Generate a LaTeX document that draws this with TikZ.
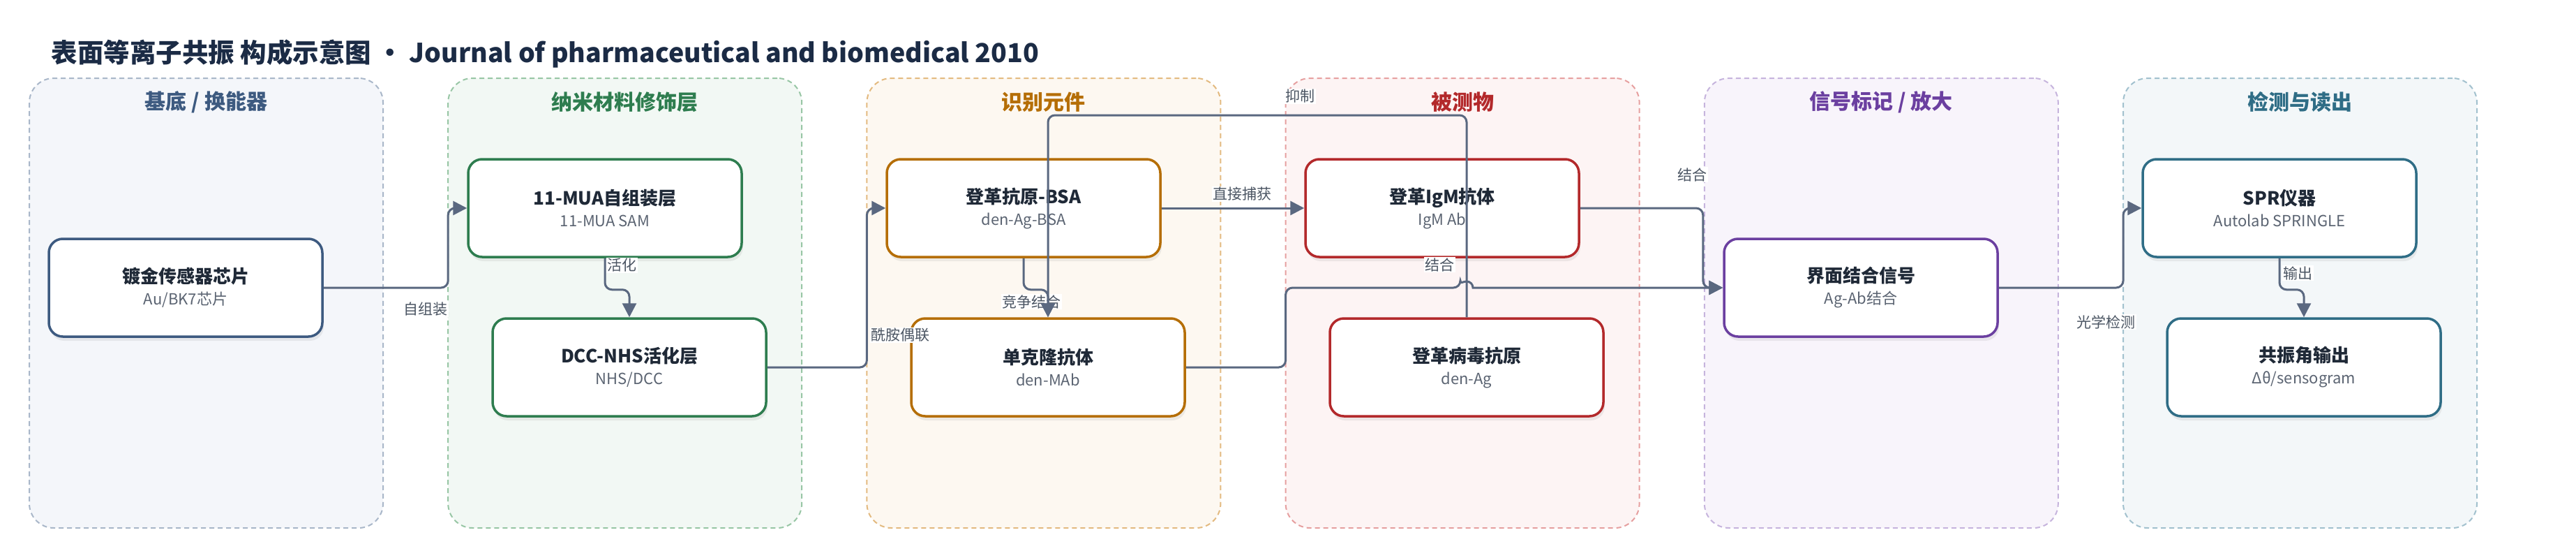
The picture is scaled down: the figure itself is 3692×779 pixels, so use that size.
\documentclass[tikz,border=0pt]{standalone}
\usepackage{fontspec}
\setmainfont{Noto Sans CJK SC}
\usetikzlibrary{arrows.meta,shadows,positioning}

\definecolor{subline}{HTML}{A9B7C9}
\definecolor{subfill}{HTML}{F4F6FA}
\definecolor{subtext}{HTML}{3D5A80}
\definecolor{nanoline}{HTML}{98C6A5}
\definecolor{nanofill}{HTML}{F2F8F4}
\definecolor{nanotext}{HTML}{2E7D4F}
\definecolor{recline}{HTML}{E3BA80}
\definecolor{recfill}{HTML}{FDF8F1}
\definecolor{rectext}{HTML}{B56E06}
\definecolor{analine}{HTML}{E6A0A0}
\definecolor{anafill}{HTML}{FDF4F4}
\definecolor{anatext}{HTML}{B3292B}
\definecolor{sigline}{HTML}{C6B4DD}
\definecolor{sigfill}{HTML}{F8F4FB}
\definecolor{sigtext}{HTML}{6B3FA0}
\definecolor{detline}{HTML}{A2C1CE}
\definecolor{detfill}{HTML}{F3F7F9}
\definecolor{dettext}{HTML}{2F6D86}
\definecolor{edgecol}{HTML}{5A6880}
\definecolor{inkdark}{HTML}{1F2937}
\definecolor{notegray}{HTML}{5B6472}
\definecolor{labelgray}{HTML}{4B5563}
\definecolor{titlecol}{HTML}{1B2B45}

\newcommand{\nodemain}[1]{{\fontsize{26}{31}\selectfont\bfseries\color{inkdark}#1}}
\newcommand{\nodesub}[1]{{\fontsize{22}{31}\selectfont #1}}

\begin{document}
\begin{tikzpicture}[x=1pt, y=-1pt,
  lane/.style={draw=#1line, fill=#1fill, line width=2pt, dash pattern=on 7pt off 5pt,
    rounded corners=35pt, minimum width=507pt, minimum height=644pt, inner sep=0pt, outer sep=0pt},
  lanetitle/.style={text=#1text, font=\fontsize{30}{36}\selectfont\bfseries},
  box/.style={draw=#1, line width=3.5pt, fill=white, rounded corners=20pt,
    minimum width=392pt, minimum height=140pt, align=center, inner sep=0pt,
    text=notegray, font=\fontsize{22}{31}\selectfont,
    drop shadow={shadow xshift=2pt, shadow yshift=-6pt, opacity=0.13}},
  edge/.style={draw=edgecol, line width=3pt, rounded corners=10pt, -{Triangle[length=20pt,width=20pt]}},
  elabel/.style={fill=white, text=labelgray, font=\fontsize{21}{24}\selectfont, inner sep=1.5pt}]

\useasboundingbox (0,0) rectangle (3692,779);

\def \laneleft {42}
\def \lanestep {600.2}

% title
\node[anchor=west, text=titlecol, font=\fontsize{37.5}{44}\selectfont\bfseries] (title) at (70,77)
  {表面等离子共振 构成示意图 · Journal of pharmaceutical and biomedical 2010};

% swimlanes
\foreach \i/\col/\name in {1/sub/{基底 / 换能器}, 2/nano/纳米材料修饰层, 3/rec/识别元件,
  4/ana/被测物, 5/sig/{信号标记 / 放大}, 6/det/检测与读出}
{
  \pgfmathsetmacro{\lx}{\laneleft + \lanestep*(\i-1)}
  \node[lane=\col, anchor=north west] (lane\i) at (\lx,112) {};
  \node[lanetitle=\col] (head\i) at (\lx+253.5,146) {\name};
}

% nodes
\node[box=subtext] (chip) at (266,412) {\nodemain{镀金传感器芯片}\\\nodesub{Au/BK7芯片}};
\node[box=nanotext] (mua) at (867,298) {\nodemain{11-MUA自组装层}\\\nodesub{11-MUA SAM}};
\node[box=nanotext] (dcc) at (902,526) {\nodemain{DCC-NHS活化层}\\\nodesub{NHS/DCC}};
\node[box=rectext] (bsa) at (1467,298) {\nodemain{登革抗原-BSA}\\\nodesub{den-Ag-BSA}};
\node[box=rectext] (mab) at (1502,526) {\nodemain{单克隆抗体}\\\nodesub{den-MAb}};
\node[box=anatext] (igm) at (2067,298) {\nodemain{登革IgM抗体}\\\nodesub{IgM Ab}};
\node[box=anatext] (denag) at (2102,526) {\nodemain{登革病毒抗原}\\\nodesub{den-Ag}};
\node[box=sigtext] (signal) at (2667,412) {\nodemain{界面结合信号}\\\nodesub{Ag-Ab结合}};
\node[box=dettext] (spr) at (3267,298) {\nodemain{SPR仪器}\\\nodesub{Autolab SPRINGLE}};
\node[box=dettext] (readout) at (3302,526) {\nodemain{共振角输出}\\\nodesub{Δθ/sensogram}};

% edge labels
\node[elabel] (lblassemble) at (610,443) {自组装};
\node[elabel] (lblactivate) at (891,380) {活化};
\node[elabel] (lblcouple) at (1290,480) {酰胺偶联};
\node[elabel] (lblcompete) at (1478,432) {竞争结合};
\node[elabel] (lblcapture) at (1780,278) {直接捕获};
\node[elabel] (lblinhibit) at (1863,138) {抑制};
\node[elabel] (lblbindA) at (2063,379) {结合};
\node[elabel] (lblbindB) at (2425,250) {结合};
\node[elabel] (lbloptic) at (3018,461) {光学检测};
\node[elabel] (lbloutput) at (3293,391) {输出};

% connectors
\draw[edge] (chip.east) -| (lane2.west |- mua.west) -- (mua.west);
\draw[edge] (mua.south) -- ++(0,45) -| (dcc.north);
\draw[edge] (dcc.east) -| (lane3.west |- bsa.west) -- (bsa.west);
\draw[edge] (bsa.south) -- ++(0,45) -| (mab.north);
\draw[edge] (bsa.east) -- (igm.west);
\draw[edge] (denag.north) |- ([yshift=-53pt]lane4.north -| mab.north) -- (mab.north);
\draw[edge] (mab.east) -| (lane4.west |- signal.west)
  -- ([xshift=-9pt]denag.north |- signal.west) [sharp corners]
  arc[start angle=180, end angle=0, radius=9pt] -- (signal.west);
\draw[edge] (igm.east) -| ([xshift=-2pt]lane5.west |- signal.west) -- (signal.west);
\draw[edge] (signal.east) -| (lane6.west |- spr.west) -- (spr.west);
\draw[edge] (spr.south) -- ++(0,45) -| (readout.north);

\end{tikzpicture}
\end{document}
